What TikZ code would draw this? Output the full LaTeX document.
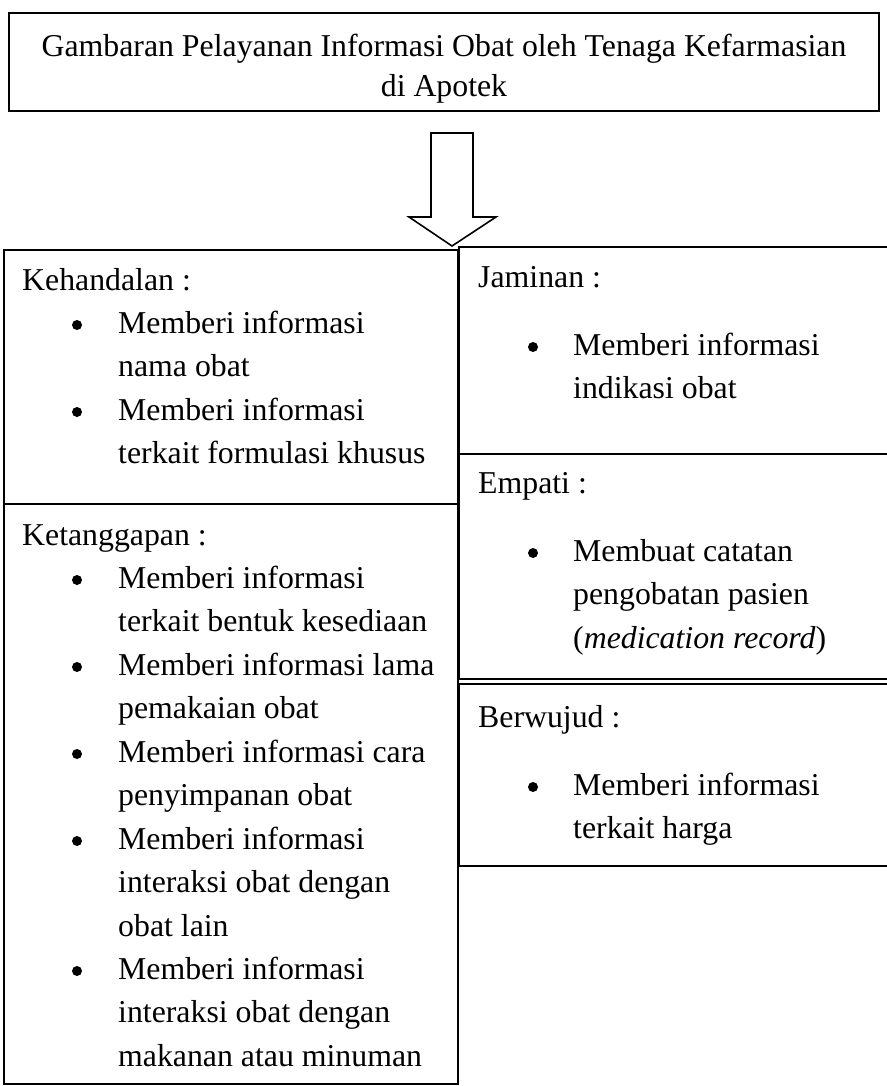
\documentclass[tikz,border=0pt]{standalone}
\usepackage{fontspec}
\setmainfont{Liberation Serif}
\usetikzlibrary{positioning}
\newcommand{\isifont}{\fontsize{31.8}{43.4}\selectfont}
\newcommand{\judulfont}{\fontsize{31.8}{40}\selectfont}
\tikzset{%
  kotak/.style={draw,line width=1.8,inner sep=0,anchor=north west},
  judul/.style={font=\judulfont,align=center,inner sep=0},
  dimensi/.style={font=\isifont,inner sep=0,anchor=base west},
  butir/.style={font=\isifont,align=left,inner sep=0,anchor=north west},
  titik/.style={circle,fill,inner sep=0,minimum size=10}
}

\begin{document}
\begin{tikzpicture}[x=1pt,y=-1pt]
  \useasboundingbox (0,0) rectangle (886,1086);

  % judul
  \node [kotak,anchor=north,minimum width=870,minimum height=98] (atas) at (444,12) {};
  \node [judul] (atasTeks) at ([yshift=-6.5pt]atas.center) {Gambaran Pelayanan Informasi Obat oleh Tenaga Kefarmasian\\di Apotek};

  % panah
  \coordinate (ujung) at (452,246);
  \draw [line width=1.6,line join=miter] (ujung) -- ++(44,-29) -- ++(-23,0) -- ++(0,-84)
    -- ++(-42,0) -- ++(0,84) -- ++(-22,0) -- cycle;

  % kolom kiri
  \node [kotak,minimum width=454,minimum height=254] (kehandalan) at (3,249) {};
  \node [kotak,minimum width=454,minimum height=580] (ketanggapan) at (3,503) {};

  % kolom kanan
  \node [kotak,minimum width=442,minimum height=207] (jaminan) at (458,246) {};
  \node [kotak,minimum width=442,minimum height=225] (empati) at (458,453) {};
  \node [kotak,minimum width=442,minimum height=182] (berwujud) at (458,683) {};

  % isi kehandalan
  \node [dimensi] (kehandalanJudul) at (22,290) {Kehandalan :};
  \node [butir] (kh1) at (118,303) {\strut Memberi informasi\\nama obat};
  \node [butir] (kh2) at (118,390) {\strut Memberi informasi\\terkait formulasi khusus};
  \node [titik] (kh1Titik) at ([shift={(-41,22)}]kh1.north west) {};
  \node [titik] (kh2Titik) at ([shift={(-41,22)}]kh2.north west) {};

  % isi ketanggapan
  \node [dimensi] (ketanggapanJudul) at (22,545) {Ketanggapan :};
  \node [butir] (kt1) at (118,558) {\strut Memberi informasi\\terkait bentuk kesediaan};
  \node [butir] (kt2) at (118,645) {\strut Memberi informasi lama\\pemakaian obat};
  \node [butir] (kt3) at (118,732) {\strut Memberi informasi cara\\penyimpanan obat};
  \node [butir] (kt4) at (118,819) {\strut Memberi informasi\\interaksi obat dengan\\obat lain};
  \node [butir] (kt5) at (118,949) {\strut Memberi informasi\\interaksi obat dengan\\makanan atau minuman};
  \node [titik] (kt1Titik) at ([shift={(-41,22)}]kt1.north west) {};
  \node [titik] (kt2Titik) at ([shift={(-41,22)}]kt2.north west) {};
  \node [titik] (kt3Titik) at ([shift={(-41,22)}]kt3.north west) {};
  \node [titik] (kt4Titik) at ([shift={(-41,22)}]kt4.north west) {};
  \node [titik] (kt5Titik) at ([shift={(-41,22)}]kt5.north west) {};

  % isi jaminan, empati, berwujud
  \node [dimensi] (jaminanJudul) at (478,287) {Jaminan :};
  \node [butir] (jm1) at (573,325) {\strut Memberi informasi\\indikasi obat};
  \node [titik] (jm1Titik) at ([shift={(-40,22)}]jm1.north west) {};

  \node [dimensi] (empatiJudul) at (478,493) {Empati :};
  \node [butir] (em1) at (573,531) {\strut Membuat catatan\\pengobatan pasien\\(\textit{medication record})};
  \node [titik] (em1Titik) at ([shift={(-40,22)}]em1.north west) {};

  \node [dimensi] (berwujudJudul) at (478,727) {Berwujud :};
  \node [butir] (bw1) at (573,765) {\strut Memberi informasi\\terkait harga};
  \node [titik] (bw1Titik) at ([shift={(-40,22)}]bw1.north west) {};
\end{tikzpicture}
\end{document}
